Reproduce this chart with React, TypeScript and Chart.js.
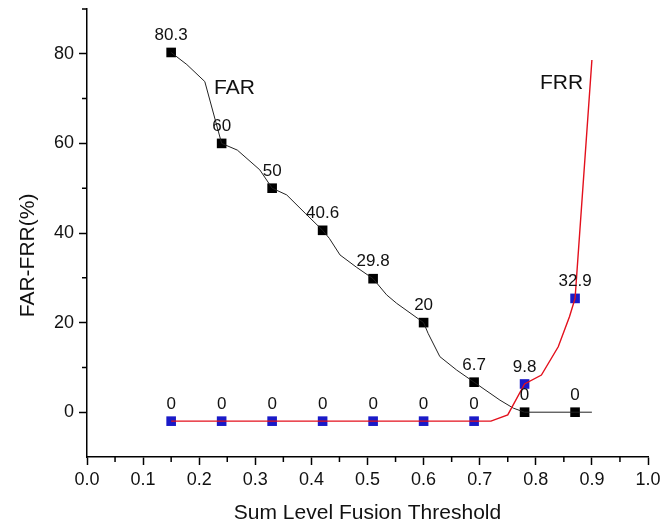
import React, { useEffect, useRef } from "react";
import { Chart, registerables } from "chart.js";

Chart.register(...registerables);

// ---- data ----
const thresholds = [0.15, 0.24, 0.33, 0.42, 0.51, 0.6, 0.69, 0.78, 0.87];
const farValues = [80.3, 60, 50, 40.6, 29.8, 20, 6.7, 0, 0];
const farLabels = ["80.3", "60", "50", "40.6", "29.8", "20", "6.7", "0", "0"];
const frrMarkerValues = [-2, -2, -2, -2, -2, -2, -2, 6.3, 25.4];
const frrLabels = ["0", "0", "0", "0", "0", "0", "0", "9.8", "32.9"];

// traced FAR curve (as drawn in the figure)
const farCurveX = [0.15, 0.178, 0.21, 0.24, 0.268, 0.308, 0.33, 0.356, 0.389, 0.42, 0.432, 0.451, 0.481, 0.51, 0.534, 0.552, 0.6, 0.608, 0.629, 0.659, 0.69, 0.736, 0.76, 0.78, 0.9];
const farCurveY = [80.3, 77.6, 73.8, 60, 58.5, 54.1, 50, 48.5, 44.4, 40.6, 38.8, 35.1, 32.3, 29.8, 26.2, 24.3, 20, 17.6, 12.4, 9.4, 6.7, 2.7, 0.9, 0, 0];

// traced FRR curve
const frrCurveX = [0.15, 0.72, 0.75, 0.78, 0.81, 0.84, 0.86, 0.87, 0.9];
const frrCurveY = [-2, -2, -0.6, 6.3, 8.3, 14.6, 21.3, 25.4, 78.6];

const xTicks = [0, 0.1, 0.2, 0.3, 0.4, 0.5, 0.6, 0.7, 0.8, 0.9, 1.0];
const xMinorTicks = [0.05, 0.15, 0.25, 0.35, 0.45, 0.55, 0.65, 0.75, 0.85, 0.95];
const yTicks = [0, 20, 40, 60, 80];
const yMinorTicks = [10, 30, 50, 70, 90];

const xTitle = "Sum Level Fusion Threshold";
const yTitle = "FAR-FRR(%)";
const farNote = { text: "FAR", x: 0.263, y: 72.4 };
const frrNote = { text: "FRR", x: 0.846, y: 73.5 };

const FONT = '"Liberation Sans", Arial, sans-serif';

const toPoints = (xs: number[], ys: number[]) => xs.map((x, i) => ({ x, y: ys[i] }));

export default function App() {
  const ref = useRef<HTMLCanvasElement | null>(null);

  useEffect(() => {
    if (!ref.current) return;
    Chart.defaults.font.family = FONT;

    const decorPlugin = {
      id: "decor",
      afterDatasetsDraw(chart: any) {
        const ctx = chart.ctx;
        const xs = chart.scales.x;
        const ys = chart.scales.y;
        ctx.save();
        ctx.fillStyle = "#111";
        ctx.textAlign = "center";
        ctx.textBaseline = "middle";
        ctx.font = `17px ${FONT}`;
        const sets: [number, string[]][] = [
          [2, farLabels],
          [3, frrLabels],
        ];
        sets.forEach(([idx, labels]) => {
          chart.getDatasetMeta(idx).data.forEach((pt: any, j: number) => {
            ctx.fillText(labels[j], pt.x, pt.y - 17);
          });
        });
        ctx.font = `21px ${FONT}`;
        [farNote, frrNote].forEach((n) => {
          ctx.fillText(n.text, xs.getPixelForValue(n.x), ys.getPixelForValue(n.y));
        });
        // y-axis title (sits lower than the axis centre in the reference)
        ctx.save();
        ctx.translate(28, ys.getPixelForValue(35));
        ctx.rotate(-Math.PI / 2);
        ctx.fillText(yTitle, 0, 0);
        ctx.restore();
        // minor ticks
        ctx.strokeStyle = "#000";
        ctx.lineWidth = 1.5;
        ctx.beginPath();
        xMinorTicks.forEach((v) => {
          const px = xs.getPixelForValue(v);
          ctx.moveTo(px, xs.top);
          ctx.lineTo(px, xs.top + 5);
        });
        yMinorTicks.forEach((v) => {
          const py = ys.getPixelForValue(v);
          ctx.moveTo(ys.right, py);
          ctx.lineTo(ys.right - 5, py);
        });
        ctx.stroke();
        ctx.restore();
      },
    };

    const chart = new Chart(ref.current, {
      type: "scatter",
      data: {
        datasets: [
          {
            data: toPoints(farCurveX, farCurveY),
            showLine: true,
            borderColor: "#222",
            borderWidth: 1,
            pointRadius: 0,
            order: 2,
          },
          {
            data: toPoints(frrCurveX, frrCurveY),
            showLine: true,
            borderColor: "#e3101c",
            borderWidth: 1.4,
            pointRadius: 0,
            order: 0,
          },
          {
            data: toPoints(thresholds, farValues),
            showLine: false,
            pointStyle: "rect",
            pointRadius: 6.8,
            pointBorderWidth: 0,
            backgroundColor: "#000",
            borderColor: "#000",
            order: 3,
          },
          {
            data: toPoints(thresholds, frrMarkerValues),
            showLine: false,
            pointStyle: "rect",
            pointRadius: 6.8,
            pointBorderWidth: 0,
            backgroundColor: "#1a1ac8",
            borderColor: "#1a1ac8",
            order: 1,
          },
        ],
      },
      options: {
        responsive: false,
        animation: false,
        events: [],
        layout: { padding: { top: 9, right: 14, bottom: 0, left: 0 } },
        plugins: {
          legend: { display: false },
          tooltip: { enabled: false },
        },
        scales: {
          x: {
            type: "linear",
            min: 0,
            max: 1,
            afterBuildTicks: (s: any) => {
              s.ticks = xTicks.map((v) => ({ value: v }));
            },
            afterFit: (s: any) => {
              s.height = 74;
              s.paddingLeft = 0;
              s.paddingRight = 0;
              s.paddingTop = 0;
              s.paddingBottom = 0;
            },
            ticks: {
              font: { size: 18 },
              color: "#111",
              padding: 4,
              maxRotation: 0,
              autoSkip: false,
              callback: (v: any) => Number(v).toFixed(1),
            },
            grid: {
              drawOnChartArea: false,
              drawTicks: true,
              tickLength: 8,
              tickWidth: 1.5,
              tickColor: "#000",
            },
            border: { display: true, color: "#000", width: 1.5 },
            title: {
              display: true,
              text: xTitle,
              font: { size: 21 },
              color: "#111",
              padding: { top: 0, bottom: 5 },
            },
          },
          y: {
            type: "linear",
            min: -10,
            max: 90,
            afterBuildTicks: (s: any) => {
              s.ticks = yTicks.map((v) => ({ value: v }));
            },
            afterFit: (s: any) => {
              s.width = 87;
              s.paddingLeft = 0;
              s.paddingRight = 0;
              s.paddingTop = 0;
              s.paddingBottom = 0;
            },
            ticks: {
              font: { size: 18 },
              color: "#111",
              padding: 5,
              autoSkip: false,
              callback: (v: any) => String(v),
            },
            grid: {
              drawOnChartArea: false,
              drawTicks: true,
              tickLength: 8,
              tickWidth: 1.5,
              tickColor: "#000",
            },
            border: { display: true, color: "#000", width: 1.5 },
            title: { display: false },
          },
        },
      },
      plugins: [decorPlugin],
    } as any);

    return () => chart.destroy();
  }, []);

  return (
    <div style={{ position: "absolute", left: 0, top: 0, width: 662, height: 531, background: "#fff" }}>
      <canvas ref={ref} width={662} height={531} />
    </div>
  );
}
